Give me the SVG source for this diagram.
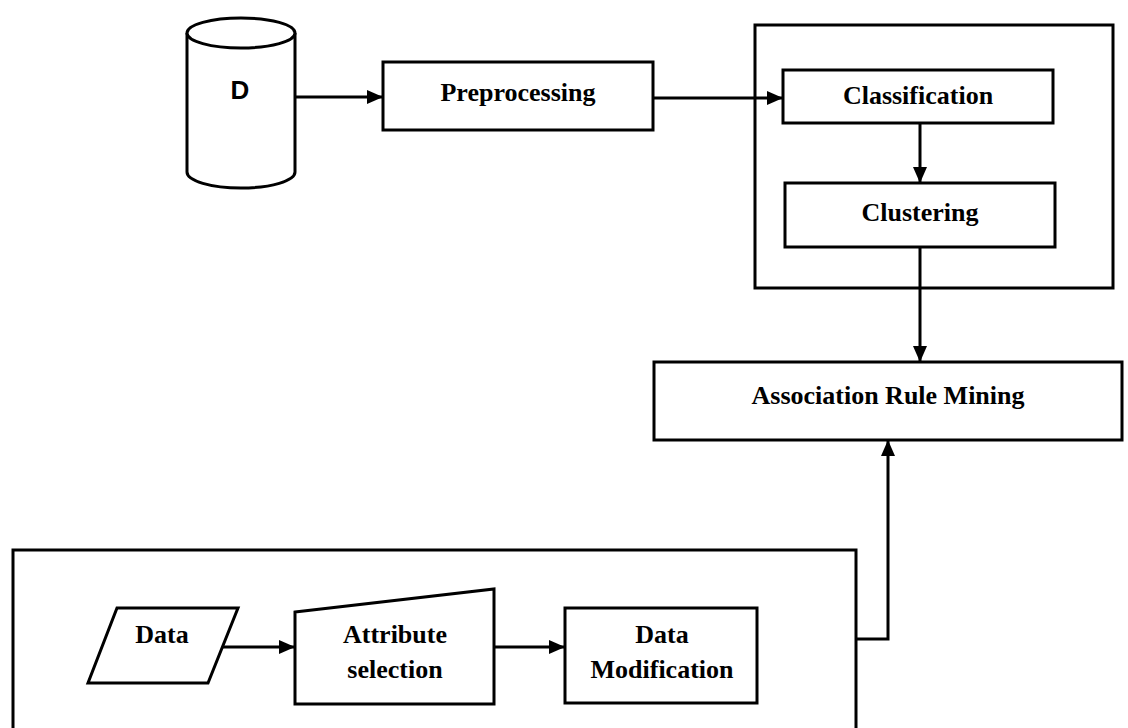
<svg xmlns="http://www.w3.org/2000/svg" width="1128" height="728" viewBox="0 0 1128 728">
<style>
.box{fill:#fff;stroke:#000;stroke-width:3;stroke-linejoin:miter}
.frame{fill:none;stroke:#000;stroke-width:3}
.lbl{font-family:"Liberation Serif","Times New Roman",serif;font-weight:bold;font-size:26px;fill:#000;text-anchor:middle}
.d{font-family:"Liberation Sans",Arial,sans-serif;font-weight:bold;font-size:26px;fill:#000;text-anchor:middle}
.conn{fill:none;stroke:#000;stroke-width:3}
</style>
<defs>
<marker id="arr" markerWidth="16" markerHeight="14" refX="16" refY="7" orient="auto" markerUnits="userSpaceOnUse">
<path d="M0,0 L16,7 L0,14 Z" fill="#000"/>
</marker>
</defs>
<rect width="1128" height="728" fill="#fff"/>
<g id="group-top">
<rect class="frame" x="755" y="25" width="358" height="263"/>
</g>
<g id="group-bottom">
<rect class="frame" x="13" y="550" width="843" height="200"/>
</g>
<g id="node-D">
<path class="box" d="M187,33 L187,172 A54,16 0 0 0 295,172 L295,33"/>
<ellipse class="box" cx="241" cy="33" rx="54" ry="15"/>
<text class="d" x="240" y="99">D</text>
</g>
<g id="node-preprocessing">
<rect class="box" x="383" y="62" width="270" height="68"/>
<text class="lbl" x="518" y="101">Preprocessing</text>
</g>
<g id="node-classification">
<rect class="box" x="783" y="70" width="270" height="53"/>
<text class="lbl" x="918" y="104">Classification</text>
</g>
<g id="node-clustering">
<rect class="box" x="785" y="183" width="270" height="64"/>
<text class="lbl" x="920" y="221">Clustering</text>
</g>
<g id="node-arm">
<rect class="box" x="654" y="362" width="468" height="78"/>
<text class="lbl" x="888" y="404">Association Rule Mining</text>
</g>
<g id="node-data">
<polygon class="box" points="117,608 238,608 208,683 88,683"/>
<text class="lbl" x="162" y="643">Data</text>
</g>
<g id="node-attribute">
<polygon class="box" points="295,612 494,589 494,704 295,704"/>
<text class="lbl" x="395" y="643">Attribute</text>
<text class="lbl" x="395" y="678">selection</text>
</g>
<g id="node-datamod">
<rect class="box" x="565" y="608" width="192" height="95"/>
<text class="lbl" x="662" y="643">Data</text>
<text class="lbl" x="662" y="678">Modification</text>
</g>
<g id="connectors">
<line class="conn" x1="295" y1="97" x2="383" y2="97" marker-end="url(#arr)"/>
<line class="conn" x1="653" y1="98" x2="783" y2="98" marker-end="url(#arr)"/>
<line class="conn" x1="920" y1="123" x2="920" y2="183" marker-end="url(#arr)"/>
<line class="conn" x1="920" y1="247" x2="920" y2="362" marker-end="url(#arr)"/>
<line class="conn" x1="222" y1="647" x2="295" y2="647" marker-end="url(#arr)"/>
<line class="conn" x1="494" y1="647" x2="565" y2="647" marker-end="url(#arr)"/>
<polyline class="conn" points="856,639 888,639 888,440" marker-end="url(#arr)"/>
</g>
</svg>
